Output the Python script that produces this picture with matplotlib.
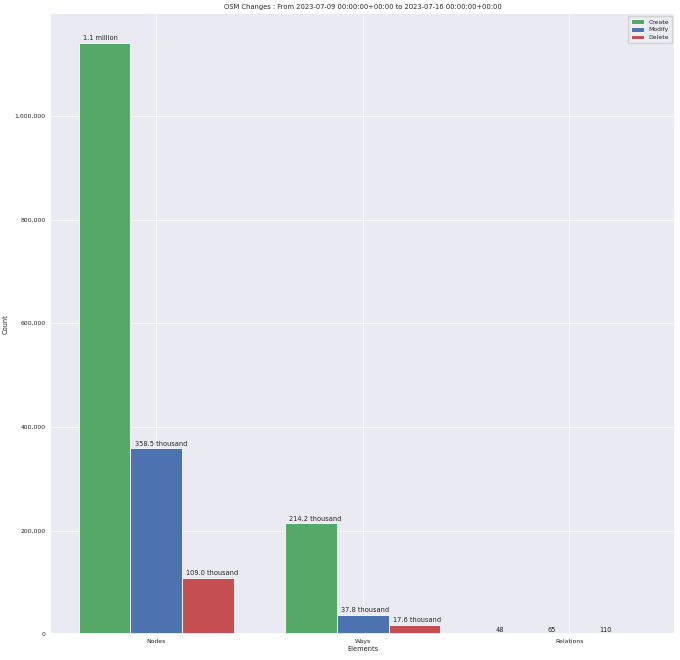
import matplotlib
matplotlib.use("Agg")
import matplotlib.pyplot as plt
import numpy as np
import seaborn as sns
from matplotlib.ticker import FuncFormatter

sns.set_theme(style="darkgrid")
plt.rcParams["font.family"] = ["DejaVu Sans"]

# Data
elements = ["Nodes", "Ways", "Relations"]
create = [1141000, 214200, 48]
modify = [358500, 37800, 65]
delete = [109000, 17600, 110]
series_names = ["Create", "Modify", "Delete"]
colors = ["#55A868", "#4C72B0", "#C44E52"]


def intword(v):
    if v >= 1_000_000:
        return f"{v / 1_000_000:.1f} million"
    if v >= 1000:
        return f"{v / 1000:.1f} thousand"
    return str(int(v))


fig, ax = plt.subplots(figsize=(6.8, 6.6), dpi=100)
fig.subplots_adjust(left=0.074, right=0.993, bottom=0.039, top=0.980)

x = np.arange(len(elements))
width = 0.25
for i, (name, vals, c) in enumerate(zip(series_names, [create, modify, delete], colors)):
    bars = ax.bar(x + (i - 1) * width, vals, width, label=name, color=c,
                  edgecolor="white", linewidth=0.6)
    # labels sit left-aligned just above each bar
    for p, v in zip(bars, vals):
        ax.annotate(intword(v), (p.get_x(), p.get_height()), xytext=(3, 1.2),
                    textcoords="offset points", ha="left", va="bottom",
                    fontsize=4.8, color="#262626")

ax.set_xticks(x)
ax.set_xticklabels(elements)
ax.yaxis.set_major_formatter(FuncFormatter(lambda v, p: f"{int(v):,}"))
ax.tick_params(axis="both", labelsize=4.4, pad=3.5, length=0)
ax.set_xlabel("Elements", fontsize=4.8, labelpad=1.5)
ax.set_ylabel("Count", fontsize=4.8, labelpad=4)
ax.set_title("OSM Changes : From 2023-07-09 00:00:00+00:00 to 2023-07-16 00:00:00+00:00",
             fontsize=4.85, pad=3)
ax.grid(True, color="white", linewidth=0.5)
ax.legend(loc="upper right", fontsize=4.4, handlelength=2.1, handleheight=0.8,
          borderpad=0.5, labelspacing=0.35, handletextpad=0.8)

fig.savefig("out.png", dpi=100)
